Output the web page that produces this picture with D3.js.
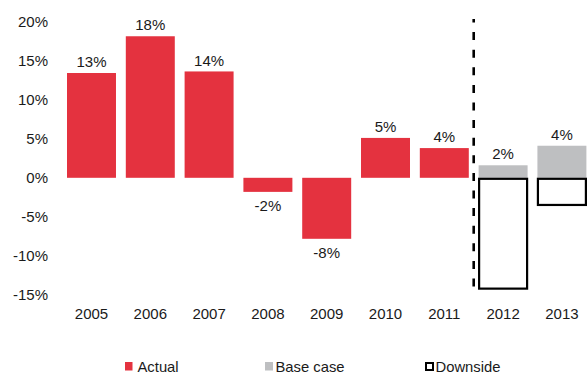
<!DOCTYPE html>
<html>
<head>
<meta charset="utf-8">
<script src="https://cdn.jsdelivr.net/npm/d3@7"></script>
<style>
  html, body { margin: 0; padding: 0; background: #fff; }
  svg { display: block; font-family: "Liberation Sans", Arial, sans-serif; }
</style>
</head>
<body>
<svg id="chart" width="587" height="374"></svg>
<script>
// Annual growth: actuals through 2011, then base case and downside scenarios
const years = ["2005", "2006", "2007", "2008", "2009", "2010", "2011", "2012", "2013"];
const actual = [0.134, 0.181, 0.136, -0.018, -0.078, 0.051, 0.038, null, null];
const baseCase = [null, null, null, null, null, null, null, 0.016, 0.041];
const downside = [null, null, null, null, null, null, null, -0.143, -0.036];
const yTicks = [-0.15, -0.10, -0.05, 0, 0.05, 0.10, 0.15, 0.20];
const legendItems = ["Actual", "Base case", "Downside"];

const RED = "#e4323f";
const GREY = "#bebfc1";
const INK = "#1a1a1a";

const svg = d3.select("#chart");
// Percent with a plain hyphen for negatives
const pctRaw = d3.format(".0%");
const pct = v => pctRaw(v).replace("\u2212", "-");

const x = d3.scaleBand()
  .domain(years)
  .range([62, 591.4])
  .paddingInner(0.167)
  .paddingOuter(0.085);

const y = d3.scaleLinear()
  .domain([-0.15, 0.20])
  .range([295.1, 21.4]);

// Y axis: labels only
const yAxis = svg.append("g")
  .attr("transform", "translate(56,0)")
  .call(d3.axisLeft(y).tickValues(yTicks).tickFormat(pct).tickSize(0).tickPadding(8));
yAxis.select(".domain").remove();
yAxis.selectAll("text")
  .attr("font-size", 15).attr("fill", INK)
  .attr("font-family", "Liberation Sans, Arial, sans-serif");

// X axis: year labels
const xAxis = svg.append("g")
  .attr("transform", "translate(0,300)")
  .call(d3.axisBottom(x).tickSize(0).tickPadding(8.3));
xAxis.select(".domain").remove();
xAxis.selectAll("text")
  .attr("font-size", 15).attr("fill", INK)
  .attr("font-family", "Liberation Sans, Arial, sans-serif");

const y0 = y(0);

// Actual bars
const actualData = years.map((yr, i) => ({ yr, v: actual[i] })).filter(d => d.v !== null);
svg.append("g").selectAll("rect")
  .data(actualData).join("rect")
  .attr("x", d => x(d.yr))
  .attr("width", x.bandwidth())
  .attr("y", d => Math.min(y(d.v), y0))
  .attr("height", d => Math.abs(y(d.v) - y0))
  .attr("fill", RED);

// Base case bars
const baseData = years.map((yr, i) => ({ yr, v: baseCase[i] })).filter(d => d.v !== null);
svg.append("g").selectAll("rect")
  .data(baseData).join("rect")
  .attr("x", d => x(d.yr))
  .attr("width", x.bandwidth())
  .attr("y", d => Math.min(y(d.v), y0))
  .attr("height", d => Math.abs(y(d.v) - y0))
  .attr("fill", GREY);

// Downside bars: hollow outlined boxes
const downData = years.map((yr, i) => ({ yr, v: downside[i] })).filter(d => d.v !== null);
svg.append("g").selectAll("rect")
  .data(downData).join("rect")
  .attr("x", d => x(d.yr) + 0.5)
  .attr("width", x.bandwidth() - 1)
  .attr("y", y0 + 1)
  .attr("height", d => y(d.v) - y0 - 2)
  .attr("fill", "#fff")
  .attr("stroke", "#000")
  .attr("stroke-width", 2.2);

// Value labels on actual and base case bars
const labelData = actualData.concat(baseData);
svg.append("g").selectAll("text")
  .data(labelData).join("text")
  .attr("x", d => x(d.yr) + x.bandwidth() / 2)
  .attr("y", d => d.v >= 0 ? y(d.v) - 5.8 : y(d.v) + 19.5)
  .attr("text-anchor", "middle")
  .attr("font-size", 15)
  .attr("fill", INK)
  .text(d => pct(d.v));

// Divider between actuals and forecasts
const divX = (x("2011") + x.bandwidth() + x("2012")) / 2;
svg.append("line")
  .attr("x1", divX).attr("x2", divX)
  .attr("y1", 19).attr("y2", 292)
  .attr("stroke", "#000")
  .attr("stroke-width", 2.6)
  .attr("stroke-dasharray", "8,9.6")
  .attr("stroke-dashoffset", 4.5);

// Legend
const legendX = [125, 265, 425];
const legend = svg.append("g");
legendItems.forEach((name, i) => {
  const g = legend.append("g").attr("transform", `translate(${legendX[i]},362)`);
  if (i === 2) {
    g.append("rect").attr("x", 1).attr("y", 1).attr("width", 7).attr("height", 7)
      .attr("fill", "#fff").attr("stroke", "#000").attr("stroke-width", 2);
  } else {
    g.append("rect").attr("width", i === 0 ? 7.5 : 8).attr("height", 8.5)
      .attr("fill", i === 0 ? RED : GREY);
  }
  g.append("text")
    .attr("x", i === 0 ? 12.5 : 10.5)
    .attr("y", 10.3)
    .attr("font-size", 14.8)
    .attr("fill", INK)
    .text(name);
});
</script>
</body>
</html>
